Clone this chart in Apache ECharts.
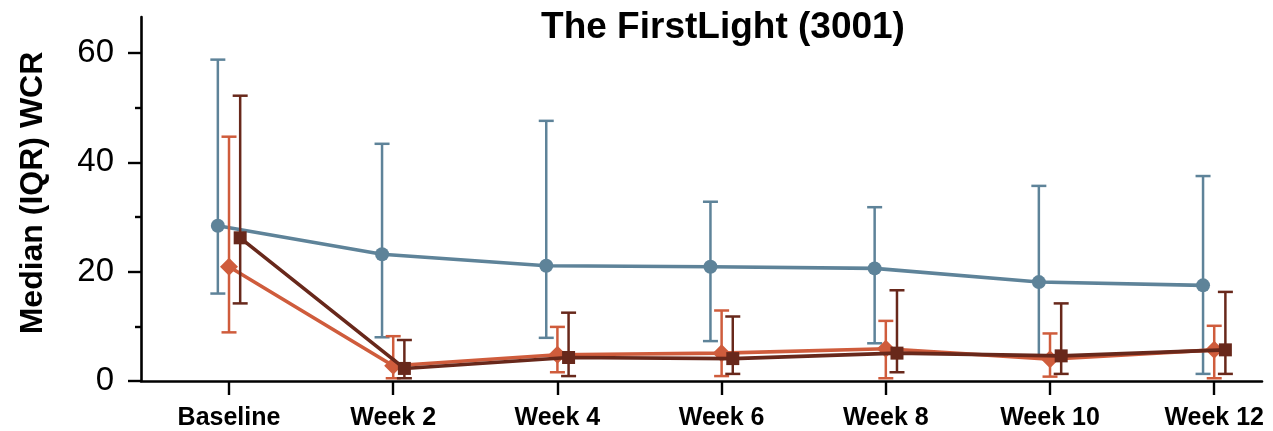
<!DOCTYPE html>
<html>
<head>
<meta charset="utf-8">
<script src="https://cdn.jsdelivr.net/npm/echarts@6/dist/echarts.min.js"></script>
<style>
  html, body { margin: 0; padding: 0; background: #fff; }
  #chart { width: 1273px; height: 431px; }
</style>
</head>
<body>
<div id="chart"></div>
<script>
// Visits along the x axis
var categories = ['Baseline', 'Week 2', 'Week 4', 'Week 6', 'Week 8', 'Week 10', 'Week 12'];

// Group 1 (circles): median, 25th and 75th percentile
var g1Median = [28.4, 23.2, 21.1, 20.9, 20.6, 18.1, 17.5];
var g1Q1     = [16.0, 8.0, 7.9, 7.3, 6.9, 4.4, 1.3];
var g1Q3     = [58.8, 43.4, 47.6, 32.8, 31.8, 35.7, 37.5];

// Group 2 (diamonds)
var g2Median = [20.9, 2.8, 4.8, 5.1, 5.9, 4.0, 5.7];
var g2Q1     = [8.9, 0.5, 1.6, 0.9, 0.5, 0.8, 0.5];
var g2Q3     = [44.7, 8.2, 9.9, 12.9, 11.0, 8.7, 10.1];

// Group 3 (squares)
var g3Median = [26.2, 2.3, 4.3, 4.1, 5.1, 4.6, 5.7];
var g3Q1     = [14.2, 0.5, 0.9, 1.3, 1.6, 1.3, 1.3];
var g3Q3     = [52.2, 7.5, 12.5, 11.8, 16.6, 14.2, 16.3];

// Y axis tick values
var yMajorTicks = [0, 20, 40, 60];
var yMinorTicks = [10, 30, 50];

var FONT = '"Liberation Sans", Arial, Helvetica, sans-serif';
var groups = [
  { name: 'g1', med: g1Median, lo: g1Q1, hi: g1Q3, color: '#5e8399', symbol: 'circle', size: 14, dx: -0.068 },
  { name: 'g2', med: g2Median, lo: g2Q1, hi: g2Q3, color: '#cf5c3c', symbol: 'diamond', size: 18, dx: 0 },
  { name: 'g3', med: g3Median, lo: g3Q1, hi: g3Q3, color: '#68281b', symbol: 'rect', size: 13, dx: 0.068 }
];

var series = [];
groups.forEach(function (g, gi) {
  // error bars: vertical stem plus caps at Q1 and Q3
  series.push({
    type: 'custom',
    name: g.name + '-iqr',
    z: 2 + gi * 2,
    data: categories.map(function (c, i) { return [i + g.dx, g.lo[i], g.hi[i]]; }),
    renderItem: function (params, api) {
      var x = api.value(0);
      var lo = api.coord([x, api.value(1)]);
      var hi = api.coord([x, api.value(2)]);
      var half = 7.5;
      var style = { stroke: g.color, lineWidth: 2.5 };
      return {
        type: 'group',
        children: [
          { type: 'line', shape: { x1: lo[0], y1: lo[1], x2: hi[0], y2: hi[1] }, style: style },
          { type: 'line', shape: { x1: lo[0] - half, y1: lo[1], x2: lo[0] + half, y2: lo[1] }, style: style },
          { type: 'line', shape: { x1: hi[0] - half, y1: hi[1], x2: hi[0] + half, y2: hi[1] }, style: style }
        ]
      };
    },
    silent: true
  });
  // median line with markers
  series.push({
    type: 'line',
    name: g.name,
    z: 3 + gi * 2,
    data: categories.map(function (c, i) { return [i + g.dx, g.med[i]]; }),
    symbol: g.symbol,
    symbolSize: g.size,
    showSymbol: true,
    itemStyle: { color: g.color },
    lineStyle: { color: g.color, width: 3.6 },
    animation: false
  });
});

var yBase = {
  type: 'value',
  min: 0,
  max: 66.6,
  position: 'left',
  splitLine: { show: false }
};

var chart = echarts.init(document.getElementById('chart'), null, { renderer: 'canvas' });
chart.setOption({
  animation: false,
  backgroundColor: '#ffffff',
  title: {
    text: 'The FirstLight (3001)',
    left: 718,
    top: 4,
    textAlign: 'center',
    textStyle: { fontFamily: FONT, fontSize: 37, fontWeight: 'bold', color: '#000' }
  },
  grid: { left: 141, right: 11, top: 17, bottom: 50, containLabel: false },
  xAxis: {
    type: 'value',
    min: -0.536,
    max: 6.291,
    splitLine: { show: false },
    axisLine: { show: true, lineStyle: { color: '#000', width: 2.6 } },
    axisTick: { show: true, customValues: categories.map(function (c, i) { return i; }), length: 14, lineStyle: { color: '#000', width: 2.4 } },
    axisLabel: {
      customValues: categories.map(function (c, i) { return i; }),
      formatter: function (v) { return categories[Math.round(v)]; },
      margin: 25,
      fontFamily: FONT, fontSize: 25, fontWeight: 'bold', color: '#000'
    }
  },
  yAxis: [
    Object.assign({}, yBase, {
      name: 'Median (IQR) WCR',
      nameLocation: 'middle',
      nameGap: 92,
      nameTextStyle: { fontFamily: FONT, fontSize: 32, fontWeight: 'bold', color: '#000', padding: [0, 0, 0, 12] },
      axisLine: { show: true, onZero: false, lineStyle: { color: '#000', width: 2.6 } },
      axisTick: { show: true, customValues: yMajorTicks, length: 13, lineStyle: { color: '#000', width: 2.4 } },
      axisLabel: { customValues: yMajorTicks, margin: 27, fontFamily: FONT, fontSize: 33, color: '#000' }
    }),
    Object.assign({}, yBase, {
      axisLine: { show: false, onZero: false },
      axisTick: { show: true, customValues: yMinorTicks, length: 6, lineStyle: { color: '#000', width: 2.4 } },
      axisLabel: { show: false }
    })
  ],
  series: series
});
</script>
</body>
</html>
